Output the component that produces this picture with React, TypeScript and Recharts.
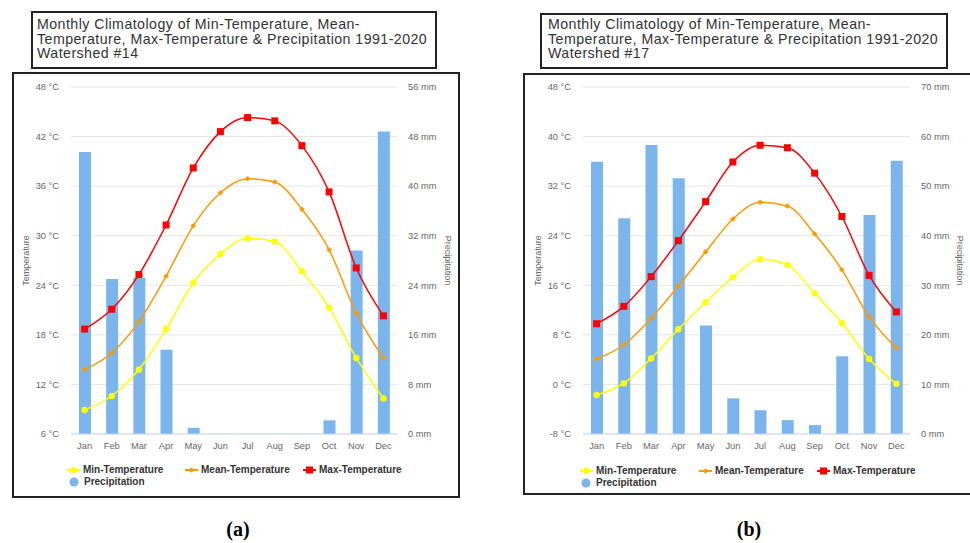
import React from 'react';
import { ComposedChart, Bar, Line, XAxis, YAxis, CartesianGrid, Label } from 'recharts';

const months = ['Jan', 'Feb', 'Mar', 'Apr', 'May', 'Jun', 'Jul', 'Aug', 'Sep', 'Oct', 'Nov', 'Dec'];

const ws14Min = [8.9, 10.6, 13.8, 18.7, 24.3, 27.8, 29.7, 29.3, 25.7, 21.3, 15.2, 10.3];
const ws14Mean = [13.8, 15.8, 19.6, 25.1, 31.2, 35.2, 36.9, 36.5, 33.2, 28.3, 20.6, 15.2];
const ws14Max = [18.7, 21.1, 25.3, 31.3, 38.2, 42.6, 44.3, 43.9, 40.9, 35.3, 26.1, 20.3];
const ws14Precip = [45.5, 25.0, 25.2, 13.6, 1.0, 0, 0, 0, 0, 2.2, 29.6, 48.8];

const ws17Min = [-1.7, 0.2, 4.2, 8.9, 13.3, 17.3, 20.2, 19.3, 14.7, 9.9, 4.1, 0.1];
const ws17Mean = [4.1, 6.4, 10.7, 15.9, 21.4, 26.7, 29.4, 28.8, 24.3, 18.5, 10.9, 5.9];
const ws17Max = [9.8, 12.6, 17.4, 23.2, 29.5, 35.9, 38.6, 38.2, 34.1, 27.1, 17.6, 11.7];
const ws17Precip = [54.9, 43.5, 58.3, 51.6, 21.9, 7.2, 4.8, 2.8, 1.8, 15.7, 44.2, 55.1];

const ws14TempTicks = [6, 12, 18, 24, 30, 36, 42, 48];
const ws14PrecipTicks = [0, 8, 16, 24, 32, 40, 48, 56];
const ws17TempTicks = [-8, 0, 8, 16, 24, 32, 40, 48];
const ws17PrecipTicks = [0, 10, 20, 30, 40, 50, 60, 70];

const titleLines14 = ['Monthly Climatology of Min-Temperature, Mean-', 'Temperature, Max-Temperature & Precipitation 1991-2020', 'Watershed #14'];
const titleLines17 = ['Monthly Climatology of Min-Temperature, Mean-', 'Temperature, Max-Temperature & Precipitation 1991-2020', 'Watershed #17'];

const legendNames = ['Min-Temperature', 'Mean-Temperature', 'Max-Temperature', 'Precipitation'];

const FONT = '"Liberation Sans", Arial, sans-serif';
const YELLOW = '#ffff00';
const ORANGE = '#ff9900';
const RED = '#ff0000';
const BLUE = '#7cb5ec';

const build = (mn: number[], me: number[], mx: number[], pr: number[]) =>
  months.map((m, i) => ({ month: m, min: mn[i], mean: me[i], max: mx[i], precip: pr[i] }));

const CircleDot = (props: any) => {
  const { cx, cy } = props;
  if (cx == null || cy == null) return null;
  return <circle cx={cx} cy={cy} r={3.2} fill={YELLOW} stroke="none" />;
};
const DiamondDot = (props: any) => {
  const { cx, cy } = props;
  if (cx == null || cy == null) return null;
  const s = 2.8;
  return <path d={`M${cx},${cy - s}L${cx + s},${cy}L${cx},${cy + s}L${cx - s},${cy}Z`} fill={ORANGE} />;
};
const SquareDot = (props: any) => {
  const { cx, cy } = props;
  if (cx == null || cy == null) return null;
  return <rect x={cx - 3.5} y={cy - 3.5} width={7} height={7} fill={RED} />;
};

const axisTitle = (text: string, dx: number, angle: number) => (props: any) => {
  const vb = props.viewBox || {};
  const x = vb.x + dx;
  const y = vb.y + vb.height / 2;
  return (
    <text
      x={x}
      y={y}
      transform={`rotate(${angle} ${x} ${y})`}
      textAnchor="middle"
      dominantBaseline="central"
      fontSize={9}
      fill="#666"
      fontFamily={FONT}
    >
      {text}
    </text>
  );
};

const tickStyle = { fontSize: 9.3, fill: '#666', fontFamily: FONT };

type ChartProps = {
  data: any[];
  width: number;
  height: number;
  leftW: number;
  rightW: number;
  xH: number;
  tempDomain: [number, number];
  tempTicks: number[];
  precipDomain: [number, number];
  precipTicks: number[];
  leftTitleDx: number;
  rightTitleDx: number;
};

const ClimateChart = (p: ChartProps) => (
  <ComposedChart width={p.width} height={p.height} data={p.data} margin={{ top: 14, right: 0, bottom: 0, left: 0 }} barCategoryGap={0}>
    <CartesianGrid yAxisId="temp" vertical={false} stroke="#e6e6e6" strokeWidth={1} />
    <XAxis
      dataKey="month"
      height={p.xH}
      tickLine={false}
      tickSize={0}
      tickMargin={8}
      axisLine={{ stroke: '#ccd6eb' }}
      tick={tickStyle}
      interval={0}
    />
    <YAxis
      yAxisId="temp"
      orientation="left"
      width={p.leftW}
      domain={p.tempDomain}
      ticks={p.tempTicks}
      allowDataOverflow
      axisLine={false}
      tickLine={false}
      tickSize={0}
      tickMargin={12}
      tick={tickStyle}
      tickFormatter={(v: number) => `${v} °C`}
    >
      <Label content={axisTitle('Temperature', p.leftTitleDx, -90)} />
    </YAxis>
    <YAxis
      yAxisId="precip"
      orientation="right"
      width={p.rightW}
      domain={p.precipDomain}
      ticks={p.precipTicks}
      allowDataOverflow
      axisLine={false}
      tickLine={false}
      tickSize={0}
      tickMargin={11}
      tick={{ ...tickStyle, textAnchor: 'start' }}
      tickFormatter={(v: number) => `${v} mm`}
    >
      <Label content={axisTitle('Precipitation', p.rightTitleDx, 90)} />
    </YAxis>
    <Bar yAxisId="precip" dataKey="precip" fill={BLUE} barSize={12} isAnimationActive={false} />
    <Line yAxisId="temp" type="monotone" dataKey="min" stroke={YELLOW} strokeWidth={1.5} dot={<CircleDot />} activeDot={false} isAnimationActive={false} />
    <Line yAxisId="temp" type="monotone" dataKey="mean" stroke={ORANGE} strokeWidth={1.5} dot={<DiamondDot />} activeDot={false} isAnimationActive={false} />
    <Line yAxisId="temp" type="monotone" dataKey="max" stroke={RED} strokeWidth={1.5} dot={<SquareDot />} activeDot={false} isAnimationActive={false} />
  </ComposedChart>
);

const LegendIcon = ({ kind }: { kind: number }) => {
  if (kind === 3) {
    return (
      <svg width={14} height={12} style={{ display: 'block' }}>
        <circle cx={6} cy={6} r={4.5} fill={BLUE} />
      </svg>
    );
  }
  return (
    <svg width={14} height={12} style={{ display: 'block' }}>
      <line x1={0} y1={6} x2={13} y2={6} stroke={[YELLOW, ORANGE, RED][kind]} strokeWidth={2} />
      {kind === 0 && <circle cx={6.5} cy={6} r={3.2} fill={YELLOW} />}
      {kind === 1 && <path d="M6.5,3.2L9.3,6L6.5,8.8L3.7,6Z" fill={ORANGE} />}
      {kind === 2 && <rect x={3} y={2.5} width={7} height={7} fill={RED} />}
    </svg>
  );
};

const LegendItem = ({ kind, x, y }: { kind: number; x: number; y: number }) => (
  <div style={{ position: 'absolute', left: x, top: y - 6, height: 12, display: 'flex', alignItems: 'center' }}>
    <LegendIcon kind={kind} />
    <span style={{ marginLeft: 2, fontFamily: FONT, fontWeight: 'bold', fontSize: 10, color: '#333', lineHeight: '12px', whiteSpace: 'nowrap' }}>
      {legendNames[kind]}
    </span>
  </div>
);

const TitleBox = ({ lines, left, top, width, height, padL, padT }: any) => (
  <div
    style={{
      position: 'absolute',
      left,
      top,
      width,
      height,
      boxSizing: 'border-box',
      border: '2px solid #222',
      paddingLeft: padL,
      paddingTop: padT,
      fontFamily: FONT,
      fontSize: 14.2,
      letterSpacing: '0.45px',
      lineHeight: '14.6px',
      color: '#333',
      whiteSpace: 'nowrap',
      background: '#fff',
    }}
  >
    {lines.map((l: string, i: number) => (
      <div key={i} style={{ height: 14.6 }}>{l}</div>
    ))}
  </div>
);

export default function App() {
  const d14 = build(ws14Min, ws14Mean, ws14Max, ws14Precip);
  const d17 = build(ws17Min, ws17Mean, ws17Max, ws17Precip);
  return (
    <div style={{ position: 'absolute', left: 0, top: 0, width: 970, height: 543, overflow: 'hidden', background: '#fff' }}>
      <TitleBox lines={titleLines14} left={31} top={11} width={406} height={58} padL={4} padT={4} />
      <TitleBox lines={titleLines17} left={540} top={13} width={408} height={56} padL={6} padT={2} />

      <div style={{ position: 'absolute', left: 12, top: 72, width: 448, height: 426, boxSizing: 'border-box', border: '2px solid #222' }} />
      <div style={{ position: 'absolute', left: 523, top: 73, width: 470, height: 422, boxSizing: 'border-box', border: '2px solid #222' }} />

      <div style={{ position: 'absolute', left: 13, top: 73 }}>
        <ClimateChart
          data={d14}
          width={446}
          height={423}
          leftW={58}
          rightW={62}
          xH={62}
          tempDomain={[6, 48]}
          tempTicks={ws14TempTicks}
          precipDomain={[0, 56]}
          precipTicks={ws14PrecipTicks}
          leftTitleDx={13}
          rightTitleDx={51}
        />
      </div>
      <div style={{ position: 'absolute', left: 524, top: 73 }}>
        <ClimateChart
          data={d17}
          width={444}
          height={421}
          leftW={59}
          rightW={58}
          xH={60}
          tempDomain={[-8, 48]}
          tempTicks={ws17TempTicks}
          precipDomain={[0, 70]}
          precipTicks={ws17PrecipTicks}
          leftTitleDx={14}
          rightTitleDx={50}
        />
      </div>

      <LegendItem kind={0} x={67} y={470} />
      <LegendItem kind={1} x={185} y={470} />
      <LegendItem kind={2} x={303} y={470} />
      <LegendItem kind={3} x={68} y={481.5} />

      <LegendItem kind={0} x={580} y={471} />
      <LegendItem kind={1} x={699} y={471} />
      <LegendItem kind={2} x={817} y={471} />
      <LegendItem kind={3} x={580} y={482.5} />

      <div style={{ position: 'absolute', left: 198, top: 518, width: 80, textAlign: 'center', fontFamily: '"Liberation Serif", serif', fontWeight: 'bold', fontSize: 20 }}>(a)</div>
      <div style={{ position: 'absolute', left: 709, top: 518, width: 80, textAlign: 'center', fontFamily: '"Liberation Serif", serif', fontWeight: 'bold', fontSize: 20 }}>(b)</div>
    </div>
  );
}
